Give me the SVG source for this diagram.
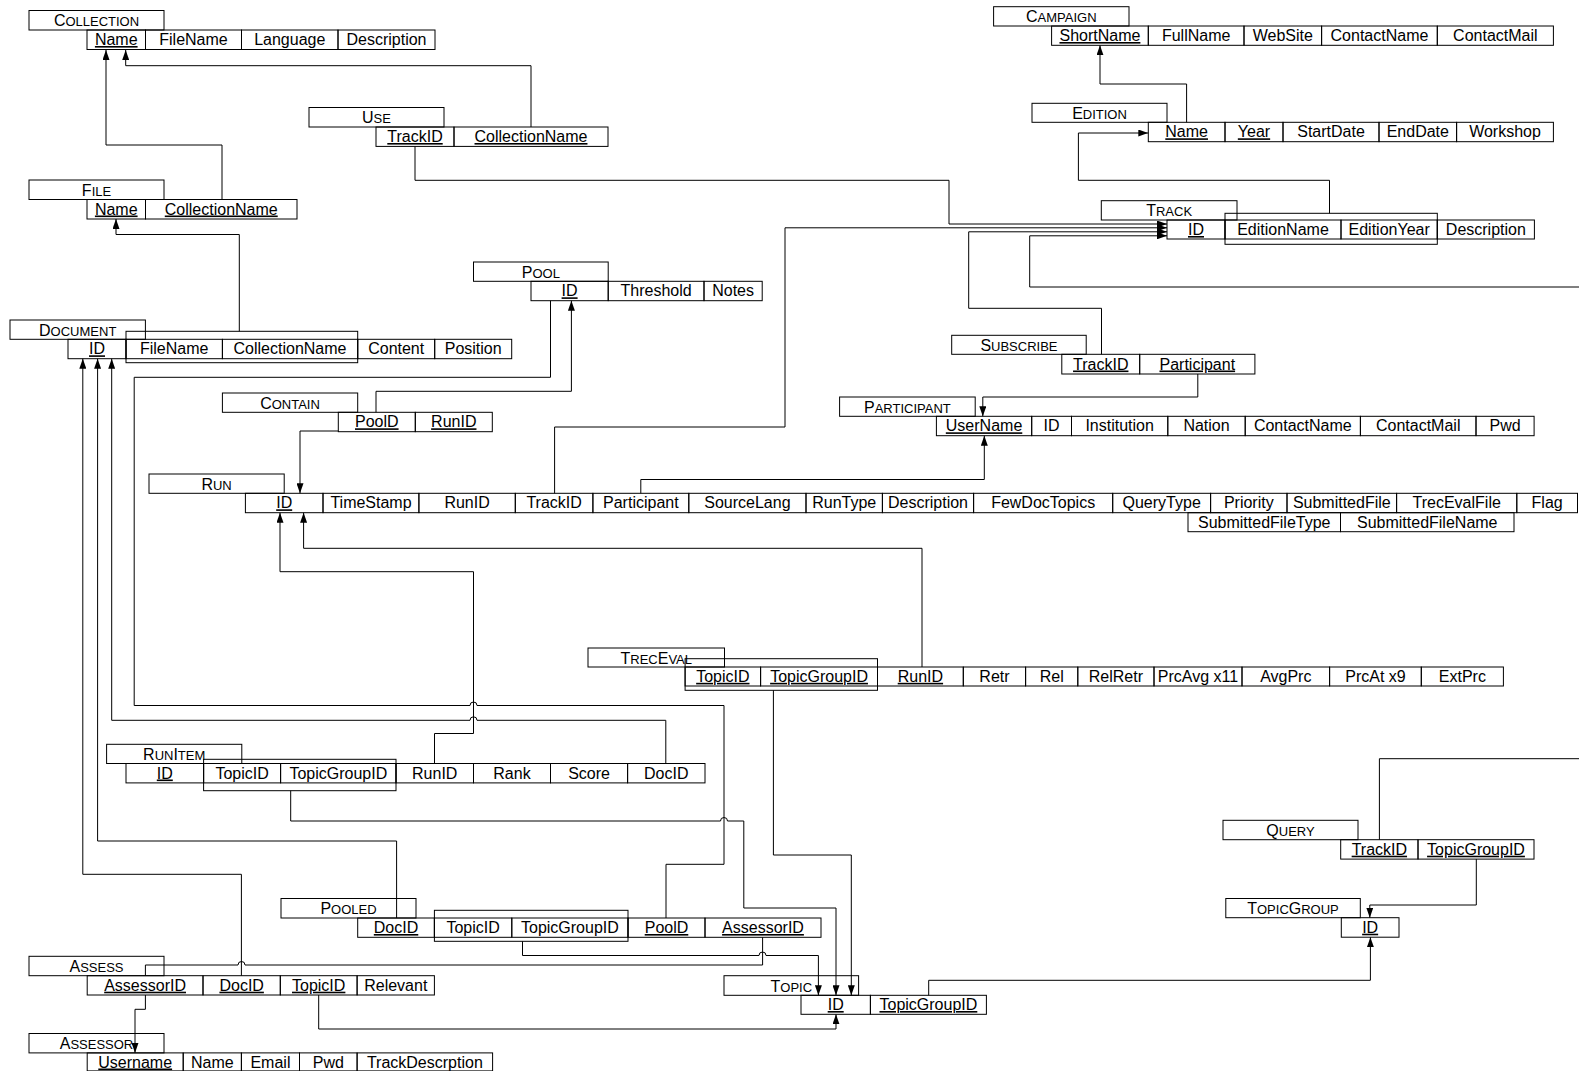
<svg xmlns="http://www.w3.org/2000/svg" width="1579" height="1071" viewBox="0 0 1579 1071">
<style>
rect{fill:none;stroke:#000;stroke-width:1}
text{font-family:"Liberation Sans",Arial,sans-serif;font-size:16px;text-anchor:middle;fill:#000}
.k{text-decoration:underline}
.s{font-size:13px}
#connectors path{fill:none;stroke:#000;stroke-width:1}
.a{marker-end:url(#arr)}
</style>
<defs>
<marker id="arr" markerWidth="10" markerHeight="7" refX="10" refY="3.5" orient="auto" markerUnits="userSpaceOnUse"><path d="M0,0 L10,3.5 L0,7 z" fill="#000"/></marker>
</defs>
<rect x="0" y="0" width="1579" height="1071" style="fill:#fff;stroke:none"/>

<g id="collection">
<rect x="29" y="10.5" width="135" height="19.5"/><text x="96.5" y="26">C<tspan class="s">OLLECTION</tspan></text>
<rect x="87" y="30" width="58.5" height="19.5"/><text x="116.25" y="45" class="k">Name</text>
<rect x="145.5" y="30" width="96" height="19.5"/><text x="193.5" y="45">FileName</text>
<rect x="241.5" y="30" width="96.5" height="19.5"/><text x="289.75" y="45">Language</text>
<rect x="338" y="30" width="97" height="19.5"/><text x="386.5" y="45">Description</text>
</g>

<g id="use">
<rect x="309" y="107.5" width="135" height="19.5"/><text x="376.5" y="123">U<tspan class="s">SE</tspan></text>
<rect x="376" y="127" width="78" height="19.4"/><text x="415" y="142" class="k">TrackID</text>
<rect x="454" y="127" width="154" height="19.4"/><text x="531" y="142" class="k">CollectionName</text>
</g>

<g id="file">
<rect x="29" y="180" width="135" height="19.5"/><text x="96.5" y="195.5">F<tspan class="s">ILE</tspan></text>
<rect x="87" y="199.5" width="58.5" height="19.5"/><text x="116.25" y="214.5" class="k">Name</text>
<rect x="145.5" y="199.5" width="151.5" height="19.5"/><text x="221.25" y="214.5" class="k">CollectionName</text>
</g>

<g id="document">
<rect x="10" y="320" width="135.4" height="19.3"/><text x="77.7" y="335.5">D<tspan class="s">OCUMENT</tspan></text>
<rect x="68" y="339.3" width="58" height="19.4"/><text x="97" y="354.3" class="k">ID</text>
<rect x="126" y="339.3" width="96.4" height="19.4"/><text x="174.2" y="354.3">FileName</text>
<rect x="222.4" y="339.3" width="135.3" height="19.4"/><text x="290" y="354.3">CollectionName</text>
<rect x="357.7" y="339.3" width="77" height="19.4"/><text x="396.2" y="354.3">Content</text>
<rect x="434.7" y="339.3" width="77" height="19.4"/><text x="473.2" y="354.3">Position</text>
<rect x="126" y="331.3" width="231.7" height="31.4"/>
</g>

<g id="pool">
<rect x="473.5" y="262" width="134.7" height="19.3"/><text x="540.85" y="277.5">P<tspan class="s">OOL</tspan></text>
<rect x="531" y="281.3" width="77.2" height="19.4"/><text x="569.6" y="296.3" class="k">ID</text>
<rect x="608.2" y="281.3" width="95.8" height="19.4"/><text x="656.1" y="296.3">Threshold</text>
<rect x="704" y="281.3" width="58.2" height="19.4"/><text x="733.1" y="296.3">Notes</text>
</g>

<g id="contain">
<rect x="222.4" y="393" width="135.3" height="19.3"/><text x="290" y="408.5">C<tspan class="s">ONTAIN</tspan></text>
<rect x="338.3" y="412.3" width="77" height="19.4"/><text x="376.8" y="427.3" class="k">PoolD</text>
<rect x="415.3" y="412.3" width="77" height="19.4"/><text x="453.8" y="427.3" class="k">RunID</text>
</g>

<g id="run">
<rect x="149" y="474" width="135.2" height="19.3"/><text x="216.6" y="489.5">R<tspan class="s">UN</tspan></text>
<rect x="245.4" y="493.3" width="77.6" height="19.4"/><text x="284.2" y="508.3" class="k">ID</text>
<rect x="323" y="493.3" width="95.9" height="19.4"/><text x="371" y="508.3">TimeStamp</text>
<rect x="418.9" y="493.3" width="96.4" height="19.4"/><text x="467.1" y="508.3">RunID</text>
<rect x="515.3" y="493.3" width="77.6" height="19.4"/><text x="554.1" y="508.3">TrackID</text>
<rect x="592.9" y="493.3" width="95.9" height="19.4"/><text x="640.85" y="508.3">Participant</text>
<rect x="688.8" y="493.3" width="117.2" height="19.4"/><text x="747.4" y="508.3">SourceLang</text>
<rect x="806" y="493.3" width="76.4" height="19.4"/><text x="844.2" y="508.3">RunType</text>
<rect x="882.4" y="493.3" width="91.2" height="19.4"/><text x="928" y="508.3">Description</text>
<rect x="973.6" y="493.3" width="139.1" height="19.4"/><text x="1043.15" y="508.3">FewDocTopics</text>
<rect x="1112.7" y="493.3" width="97.9" height="19.4"/><text x="1161.65" y="508.3">QueryType</text>
<rect x="1210.6" y="493.3" width="76.4" height="19.4"/><text x="1248.8" y="508.3">Priority</text>
<rect x="1287" y="493.3" width="109.6" height="19.4"/><text x="1341.8" y="508.3">SubmittedFile</text>
<rect x="1396.6" y="493.3" width="120.2" height="19.4"/><text x="1456.7" y="508.3">TrecEvalFile</text>
<rect x="1516.8" y="493.3" width="60.7" height="19.4"/><text x="1547.15" y="508.3">Flag</text>
<rect x="1188" y="512.7" width="152.5" height="19"/><text x="1264.25" y="527.5">SubmittedFileType</text>
<rect x="1340.5" y="512.7" width="173.5" height="19"/><text x="1427.25" y="527.5">SubmittedFileName</text>
</g>

<g id="runitem">
<rect x="106.6" y="744.3" width="135.2" height="19.2"/><text x="174.2" y="759.5">R<tspan class="s">UN</tspan>I<tspan class="s">TEM</tspan></text>
<rect x="126" y="763.5" width="77.6" height="19.4"/><text x="164.8" y="778.5" class="k">ID</text>
<rect x="203.6" y="763.5" width="77" height="19.4"/><text x="242.1" y="778.5">TopicID</text>
<rect x="280.6" y="763.5" width="115.4" height="19.4"/><text x="338.3" y="778.5">TopicGroupID</text>
<rect x="396" y="763.5" width="77.5" height="19.4"/><text x="434.75" y="778.5">RunID</text>
<rect x="473.5" y="763.5" width="77" height="19.4"/><text x="512" y="778.5">Rank</text>
<rect x="550.5" y="763.5" width="77.1" height="19.4"/><text x="589.05" y="778.5">Score</text>
<rect x="627.6" y="763.5" width="77.4" height="19.4"/><text x="666.3" y="778.5">DocID</text>
<rect x="203.6" y="759.3" width="192.4" height="31.4"/>
</g>

<g id="treceval">
<rect x="588" y="648" width="136.5" height="19"/><text x="656.25" y="663.5">T<tspan class="s">REC</tspan>E<tspan class="s">VAL</tspan></text>
<rect x="685.1" y="667" width="75.5" height="19"/><text x="722.85" y="681.8" class="k">TopicID</text>
<rect x="760.6" y="667" width="116.9" height="19"/><text x="819.05" y="681.8" class="k">TopicGroupID</text>
<rect x="877.5" y="667" width="85.8" height="19"/><text x="920.4" y="681.8" class="k">RunID</text>
<rect x="963.3" y="667" width="62.3" height="19"/><text x="994.45" y="681.8">Retr</text>
<rect x="1025.6" y="667" width="52.2" height="19"/><text x="1051.7" y="681.8">Rel</text>
<rect x="1077.8" y="667" width="76.2" height="19"/><text x="1115.9" y="681.8">RelRetr</text>
<rect x="1154" y="667" width="88" height="19"/><text x="1198" y="681.8">PrcAvg x11</text>
<rect x="1242" y="667" width="87.6" height="19"/><text x="1285.8" y="681.8">AvgPrc</text>
<rect x="1329.6" y="667" width="91.7" height="19"/><text x="1375.45" y="681.8">PrcAt x9</text>
<rect x="1421.3" y="667" width="82.1" height="19"/><text x="1462.35" y="681.8">ExtPrc</text>
<rect x="685.1" y="658.7" width="192.4" height="31.6"/>
</g>

<g id="pooled">
<rect x="281" y="898.5" width="135" height="19.5"/><text x="348.5" y="914">P<tspan class="s">OOLED</tspan></text>
<rect x="357.7" y="918" width="76.7" height="19.3"/><text x="396.05" y="933" class="k">DocID</text>
<rect x="434.4" y="918" width="77.4" height="19.3"/><text x="473.1" y="933">TopicID</text>
<rect x="511.8" y="918" width="116.2" height="19.3"/><text x="569.9" y="933">TopicGroupID</text>
<rect x="628" y="918" width="77" height="19.3"/><text x="666.5" y="933" class="k">PoolD</text>
<rect x="705" y="918" width="116" height="19.3"/><text x="763" y="933" class="k">AssessorID</text>
<rect x="434.4" y="910.3" width="193.6" height="31"/>
</g>

<g id="assess">
<rect x="29" y="956.3" width="135" height="19.4"/><text x="96.5" y="972">A<tspan class="s">SSESS</tspan></text>
<rect x="87.2" y="975.7" width="115.8" height="19.3"/><text x="145.1" y="990.7" class="k">AssessorID</text>
<rect x="203" y="975.7" width="77.3" height="19.3"/><text x="241.65" y="990.7" class="k">DocID</text>
<rect x="280.3" y="975.7" width="76.8" height="19.3"/><text x="318.7" y="990.7" class="k">TopicID</text>
<rect x="357.1" y="975.7" width="77.3" height="19.3"/><text x="395.75" y="990.7">Relevant</text>
</g>

<g id="assessor">
<rect x="29" y="1033.5" width="135" height="19.4"/><text x="96.5" y="1049">A<tspan class="s">SSESSOR</tspan></text>
<rect x="87.2" y="1052.9" width="96" height="18"/><text x="135.2" y="1067.5" class="k">Username</text>
<rect x="183.2" y="1052.9" width="58.2" height="18"/><text x="212.3" y="1067.5">Name</text>
<rect x="241.4" y="1052.9" width="58.1" height="18"/><text x="270.45" y="1067.5">Email</text>
<rect x="299.5" y="1052.9" width="57.6" height="18"/><text x="328.3" y="1067.5">Pwd</text>
<rect x="357.1" y="1052.9" width="135.5" height="18"/><text x="424.85" y="1067.5">TrackDescrption</text>
</g>

<g id="topic">
<rect x="724" y="975.7" width="134.6" height="19.6"/><text x="791.3" y="991.5">T<tspan class="s">OPIC</tspan></text>
<rect x="801" y="995.3" width="69.4" height="19"/><text x="835.7" y="1010" class="k">ID</text>
<rect x="870.4" y="995.3" width="116" height="19"/><text x="928.4" y="1010" class="k">TopicGroupID</text>
</g>

<g id="query">
<rect x="1223" y="820.3" width="135" height="19.4"/><text x="1290.5" y="836">Q<tspan class="s">UERY</tspan></text>
<rect x="1340.7" y="839.7" width="77.3" height="19.4"/><text x="1379.35" y="854.7" class="k">TrackID</text>
<rect x="1418" y="839.7" width="116" height="19.4"/><text x="1476" y="854.7" class="k">TopicGroupID</text>
</g>

<g id="topicgroup">
<rect x="1225.8" y="898.5" width="134.5" height="19.2"/><text x="1293" y="914">T<tspan class="s">OPIC</tspan>G<tspan class="s">ROUP</tspan></text>
<rect x="1341.3" y="917.7" width="57.7" height="19.5"/><text x="1370.15" y="932.7" class="k">ID</text>
</g>

<g id="campaign">
<rect x="993.6" y="6.7" width="135.4" height="19.3"/><text x="1061.3" y="22">C<tspan class="s">AMPAIGN</tspan></text>
<rect x="1051.6" y="26" width="96.7" height="19.3"/><text x="1099.95" y="41" class="k">ShortName</text>
<rect x="1148.3" y="26" width="95.7" height="19.3"/><text x="1196.15" y="41">FullName</text>
<rect x="1244" y="26" width="77.6" height="19.3"/><text x="1282.8" y="41">WebSite</text>
<rect x="1321.6" y="26" width="115.7" height="19.3"/><text x="1379.45" y="41">ContactName</text>
<rect x="1437.3" y="26" width="116.1" height="19.3"/><text x="1495.35" y="41">ContactMail</text>
</g>

<g id="edition">
<rect x="1032" y="103.3" width="135" height="19"/><text x="1099.5" y="118.5">E<tspan class="s">DITION</tspan></text>
<rect x="1148.3" y="122.3" width="76.7" height="19.4"/><text x="1186.65" y="137.3" class="k">Name</text>
<rect x="1225" y="122.3" width="58" height="19.4"/><text x="1254" y="137.3" class="k">Year</text>
<rect x="1283" y="122.3" width="96" height="19.4"/><text x="1331" y="137.3">StartDate</text>
<rect x="1379" y="122.3" width="77.6" height="19.4"/><text x="1417.8" y="137.3">EndDate</text>
<rect x="1456.6" y="122.3" width="96.8" height="19.4"/><text x="1505" y="137.3">Workshop</text>
</g>

<g id="track">
<rect x="1101.3" y="200.7" width="135.7" height="19.3"/><text x="1169.15" y="216">T<tspan class="s">RACK</tspan></text>
<rect x="1167" y="220" width="58" height="19"/><text x="1196" y="235" class="k">ID</text>
<rect x="1225" y="220" width="116" height="19"/><text x="1283" y="235">EditionName</text>
<rect x="1341" y="220" width="96.3" height="19"/><text x="1389.15" y="235">EditionYear</text>
<rect x="1437.3" y="220" width="97.1" height="19"/><text x="1485.85" y="235">Description</text>
<rect x="1225" y="213.3" width="212.3" height="31"/>
</g>

<g id="subscribe">
<rect x="951.7" y="335.3" width="134.5" height="19"/><text x="1018.95" y="350.5">S<tspan class="s">UBSCRIBE</tspan></text>
<rect x="1061.8" y="354.3" width="77.9" height="19.7"/><text x="1100.75" y="369.5" class="k">TrackID</text>
<rect x="1139.7" y="354.3" width="115.2" height="19.7"/><text x="1197.3" y="369.5" class="k">Participant</text>
</g>

<g id="participant">
<rect x="839.6" y="397" width="135.6" height="19.3"/><text x="907.4" y="412.5">P<tspan class="s">ARTICIPANT</tspan></text>
<rect x="936.4" y="416.3" width="95.3" height="19.4"/><text x="984.05" y="431.3" class="k">UserName</text>
<rect x="1031.7" y="416.3" width="39.8" height="19.4"/><text x="1051.6" y="431.3">ID</text>
<rect x="1071.5" y="416.3" width="96.3" height="19.4"/><text x="1119.65" y="431.3">Institution</text>
<rect x="1167.8" y="416.3" width="77.4" height="19.4"/><text x="1206.5" y="431.3">Nation</text>
<rect x="1245.2" y="416.3" width="115.2" height="19.4"/><text x="1302.8" y="431.3">ContactName</text>
<rect x="1360.4" y="416.3" width="115.6" height="19.4"/><text x="1418.2" y="431.3">ContactMail</text>
<rect x="1476" y="416.3" width="58.1" height="19.4"/><text x="1505.05" y="431.3">Pwd</text>
</g>

<g id="connectors">
<path class="a" d="M222 199.5 V145 H106 V50"/>
<path class="a" d="M531 127 V65.7 H125.7 V50"/>
<path class="a" d="M415 146.4 V180.3 H949 V224 H1167"/>
<path class="a" d="M239.3 331.3 V234.5 H116 V219"/>
<path class="a" d="M1186.6 122.3 V84 H1100 V45.3"/>
<path class="a" d="M1329.5 213.3 V180.3 H1078.4 V133 H1148.3"/>
<path class="a" d="M554.6 493.3 V427 H785 V227.8 H1167"/>
<path class="a" d="M1101.5 354.3 V308.3 H968.7 V231.8 H1167"/>
<path class="a" d="M1379.4 839.7 V758.7 H1600 V287 H1029.7 V235.8 H1167"/>
<path class="a" d="M1197.8 374 V397 H982.8 V416.3"/>
<path class="a" d="M640.8 493.3 V479.5 H984.3 V435.7"/>
<path class="a" d="M376 412.3 V391.3 H571.4 V300.7"/>
<path class="a" d="M338.3 431 H300 V493.3"/>
<path d="M666 918 V864.3 H724 V705.5 H477 A3.5 3.5 0 0 0 470 705.5 H134.2 V377.3 H550.5 V300.7"/>
<path class="a" d="M434.5 763.5 V733.5 H473.5 V571.7 H280 V512.7"/>
<path class="a" d="M665.8 763.5 V720.3 H477 A3.5 3.5 0 0 0 470 720.3 H111.7 V358.7"/>
<path class="a" d="M922 667 V548.3 H303.6 V512.7"/>
<path class="a" d="M396.6 918 V841 H97.6 V358.7"/>
<path class="a" d="M241.4 975.7 V874.3 H82.8 V358.7"/>
<path class="a" d="M290.7 790.7 V821 H720.5 A3.5 3.5 0 0 1 727.5 821 H743.8 V908 H836 V995.3"/>
<path class="a" d="M522.5 941.3 V955.5 H759 A3.5 3.5 0 0 1 766 955.5 H818.4 V995.3"/>
<path class="a" d="M773.4 690.3 V855 H851.3 V995.3"/>
<path d="M762.6 937.3 V965 H245 A3.5 3.5 0 0 0 238 965 H145.4 V975.7"/>
<path class="a" d="M145.4 995 V1009.3 H135 V1052.9"/>
<path class="a" d="M318.7 995 V1029 H836 V1014.3"/>
<path class="a" d="M928.7 995.3 V980.3 H1370.4 V937.2"/>
<path class="a" d="M1476.3 859.1 V905 H1369.8 V917.7"/>
</g>
</svg>
